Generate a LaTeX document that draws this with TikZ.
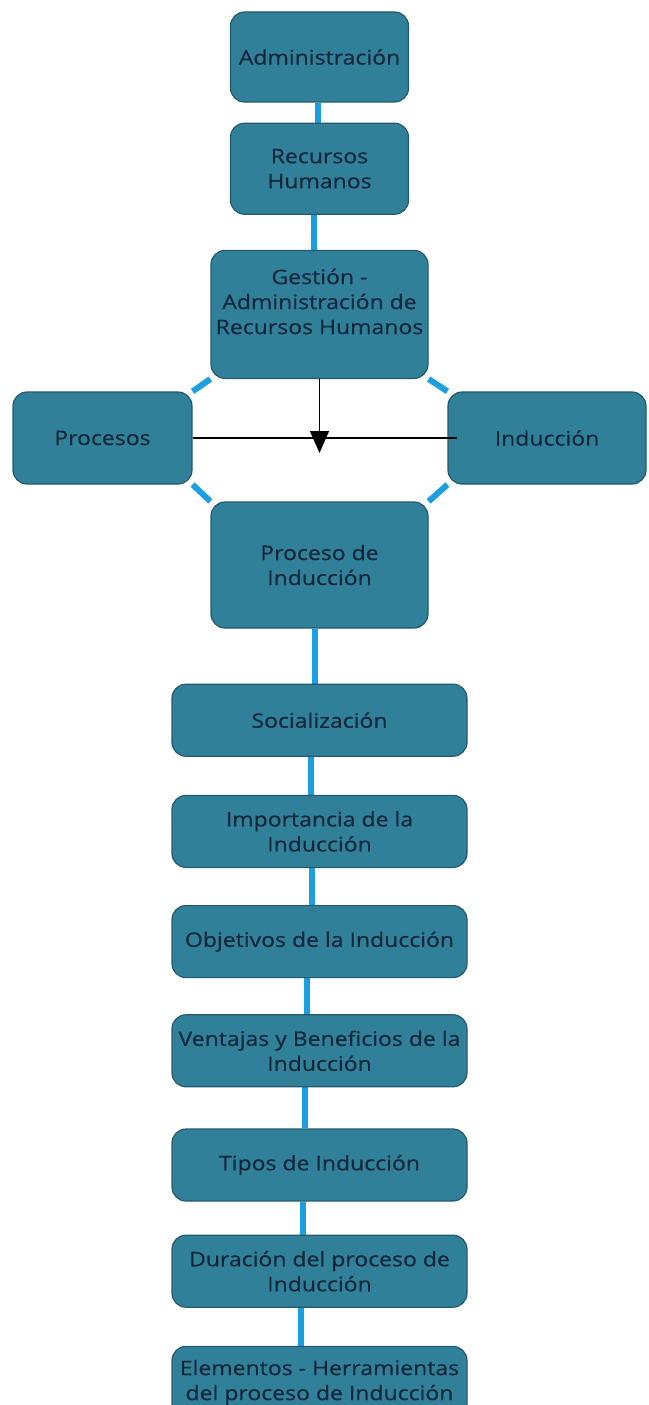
\documentclass[tikz,border=0pt]{standalone}
\usepackage{fontspec}
\setmainfont{Open Sans}[FakeStretch=1.15,FakeBold=0.3]
\usetikzlibrary{arrows.meta,positioning,backgrounds}
\definecolor{boxfill}{HTML}{31809A}
\definecolor{boxline}{HTML}{245B6C}
\definecolor{boxtext}{HTML}{14263A}
\definecolor{linkblue}{HTML}{1A9FE0}

\begin{document}
\begin{tikzpicture}[x=1pt,y=-1pt,box/.style={draw=boxline,fill=boxfill,text=boxtext,
  rounded corners=14pt,align=center,line width=1.2pt,inner sep=2pt,
  font=\fontsize{20}{25}\selectfont},wide/.style={box,minimum width=295pt,minimum height=72pt},
  link/.style={linkblue,line width=6pt},>={Triangle[width=19pt,length=22pt]}]
\useasboundingbox (0,0) rectangle (648,1405);
\node[box,minimum width=178pt,minimum height=90pt] (admin) at (319.5,57) {Administración};
\node[box,minimum width=178pt,minimum height=91pt,below=20pt of admin] (rrhh) {Recursos\\Humanos};
\node[box,minimum width=217pt,minimum height=128pt,text depth=26pt,below=35pt of rrhh] (gestion)
  {Gestión -\\Administración de\\Recursos Humanos};
\node[box,minimum width=179pt,minimum height=92pt] (procesos) at (102.5,438) {Procesos};
\node[box,minimum width=198pt,minimum height=92pt] (induccion) at (547,438) {Inducción};
\node[box,minimum width=217pt,minimum height=126pt] (proceso) at (319.5,565) {Proceso de\\Inducción};
\node[wide,below=55pt of proceso] (social) {Socialización};
\node[wide,below=38pt of social] (importancia) {Importancia de la\\Inducción};
\node[wide,below=37pt of importancia] (objetivos) {Objetivos de la Inducción};
\node[wide,below=36pt of objetivos] (ventajas) {Ventajas y Beneficios de la\\Inducción};
\node[wide,below=41pt of ventajas] (tipos) {Tipos de Inducción};
\node[wide,below=33pt of tipos] (duracion) {Duración del proceso de\\Inducción};
\node[wide,below=38pt of duracion] (elementos) {Elementos - Herramientas\\del proceso de Inducción};
% blue links behind the boxes
\begin{scope}[on background layer]
\draw[link] ([xshift=-2pt]admin.south) -- ([xshift=-2pt]rrhh.north);
\draw[link] ([xshift=-6pt]rrhh.south) -- ([xshift=-6pt]gestion.north);
\draw[link] (gestion.south west) -- (procesos.north east);
\draw[link] (gestion.south east) -- (induccion.north west);
\draw[link] (procesos.south east) -- (proceso.north west);
\draw[link] (induccion.south west) -- (proceso.north east);
\draw[link] ([xshift=-5pt]proceso.south) -- ([xshift=-5pt]social.north);
\draw[link] ([xshift=-9pt]social.south) -- ([xshift=-9pt]importancia.north);
\draw[link] ([xshift=-8pt]importancia.south) -- ([xshift=-8pt]objetivos.north);
\draw[link] ([xshift=-13pt]objetivos.south) -- ([xshift=-13pt]ventajas.north);
\draw[link] ([xshift=-15pt]ventajas.south) -- ([xshift=-15pt]tipos.north);
\draw[link] ([xshift=-17pt]tipos.south) -- ([xshift=-17pt]duracion.north);
\draw[link] ([xshift=-19pt]duracion.south) -- ([xshift=-19pt]elementos.north);
\end{scope}
% black cross
\coordinate[below=74pt of gestion.south] (tip);
\draw[line width=1.3pt] (procesos.east) -- ([xshift=10pt]induccion.west);
\draw[->,line width=1.3pt] (gestion.south) -- (tip);
\end{tikzpicture}
\end{document}
